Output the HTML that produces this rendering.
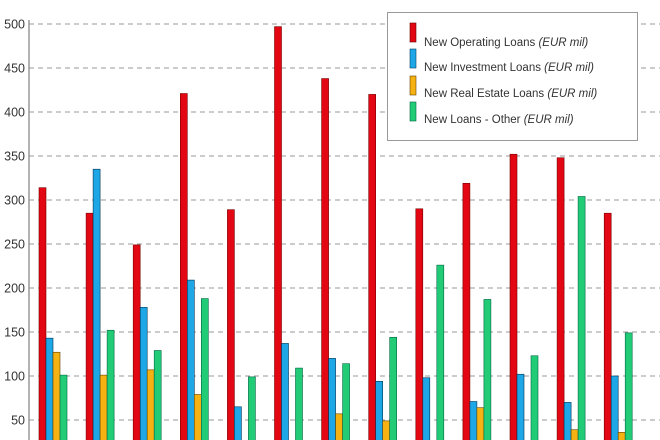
<!DOCTYPE html>
<html><head><meta charset="utf-8"><style>
html,body{margin:0;background:#fff;width:660px;height:440px;overflow:hidden;}
svg{display:block;overflow:hidden;font-family:"Liberation Sans",sans-serif;}
</style></head><body>
<svg width="660" height="440">
<g id="grid"></g>
<g id="bars"></g>
<line x1="29" y1="20" x2="29" y2="440" stroke="#999" stroke-width="1.5"/>
<g>
<rect x="387.5" y="12.5" width="250" height="128" fill="#fff" stroke="#999"/>
<g><rect x="410" y="23" width="6" height="19" fill="#e30613" stroke="#600" stroke-width="0.6"/><text x="424" y="46" font-size="11.5" fill="#333">New Operating Loans <tspan font-style="italic">(EUR mil)</tspan></text></g>
<g><rect x="410" y="49" width="6" height="19" fill="#1ea7e6" stroke="#046" stroke-width="0.6"/><text x="424" y="71" font-size="11.5" fill="#333">New Investment Loans <tspan font-style="italic">(EUR mil)</tspan></text></g>
<g><rect x="410" y="76" width="6" height="19" fill="#f5b212" stroke="#640" stroke-width="0.6"/><text x="424" y="97" font-size="11.5" fill="#333">New Real Estate Loans <tspan font-style="italic">(EUR mil)</tspan></text></g>
<g><rect x="410" y="102" width="6" height="19" fill="#22cc77" stroke="#064" stroke-width="0.6"/><text x="424" y="123" font-size="11.5" fill="#333">New Loans - Other <tspan font-style="italic">(EUR mil)</tspan></text></g>
</g>
</svg>
<script>
const ticks=[50,100,150,200,250,300,350,400,450,500];
const operating=[314,285,249,421,289,497,438,420,290,319,352,348,285];
const investment=[143,335,178,209,65,137,120,94,98,71,102,70,100];
const realEstate=[127,101,107,79,15,15,57,49,15,64,15,39,36];
const other=[101,152,129,188,99,109,114,144,226,187,123,304,149];
const series=[operating,investment,realEstate,other];
const names=['operating','investment','real-estate','other'];
const colors=['#e30613','#1ea7e6','#f5b212','#22cc77'];
const strokes=['#700','#035','#640','#064'];
const ns='http://www.w3.org/2000/svg';
function y(v){return 464-v*0.88;}
function gx(i){return 39+i*47.1;}
const bottom=441;
const grid=document.getElementById('grid');
ticks.forEach(t=>{
 const l=document.createElementNS(ns,'line');
 
 
 l.setAttribute('x1',29);l.setAttribute('x2',660);
 l.setAttribute('y1',y(t));l.setAttribute('y2',y(t));
 l.setAttribute('stroke','#999');l.setAttribute('stroke-dasharray','5,4');
 grid.appendChild(l);
 const tx=document.createElementNS(ns,'text');
 
 
 tx.setAttribute('x',25);tx.setAttribute('y',y(t)+4.5);
 tx.setAttribute('text-anchor','end');tx.setAttribute('font-size','12.5');tx.setAttribute('fill','#333');
 tx.textContent=t;grid.appendChild(tx);
});
const bars=document.getElementById('bars');
series.forEach((s,k)=>{
 s.forEach((v,i)=>{
  const top=y(v);
  if(top>=bottom) return;
  const r=document.createElementNS(ns,'rect');
  
  
  r.setAttribute('x',gx(i)+k*7);r.setAttribute('width',7);
  r.setAttribute('y',top);r.setAttribute('height',bottom-top);
  r.setAttribute('fill',colors[k]);r.setAttribute('stroke',strokes[k]);r.setAttribute('stroke-width','0.6');
  bars.appendChild(r);
 });
});
</script>
</body></html>
